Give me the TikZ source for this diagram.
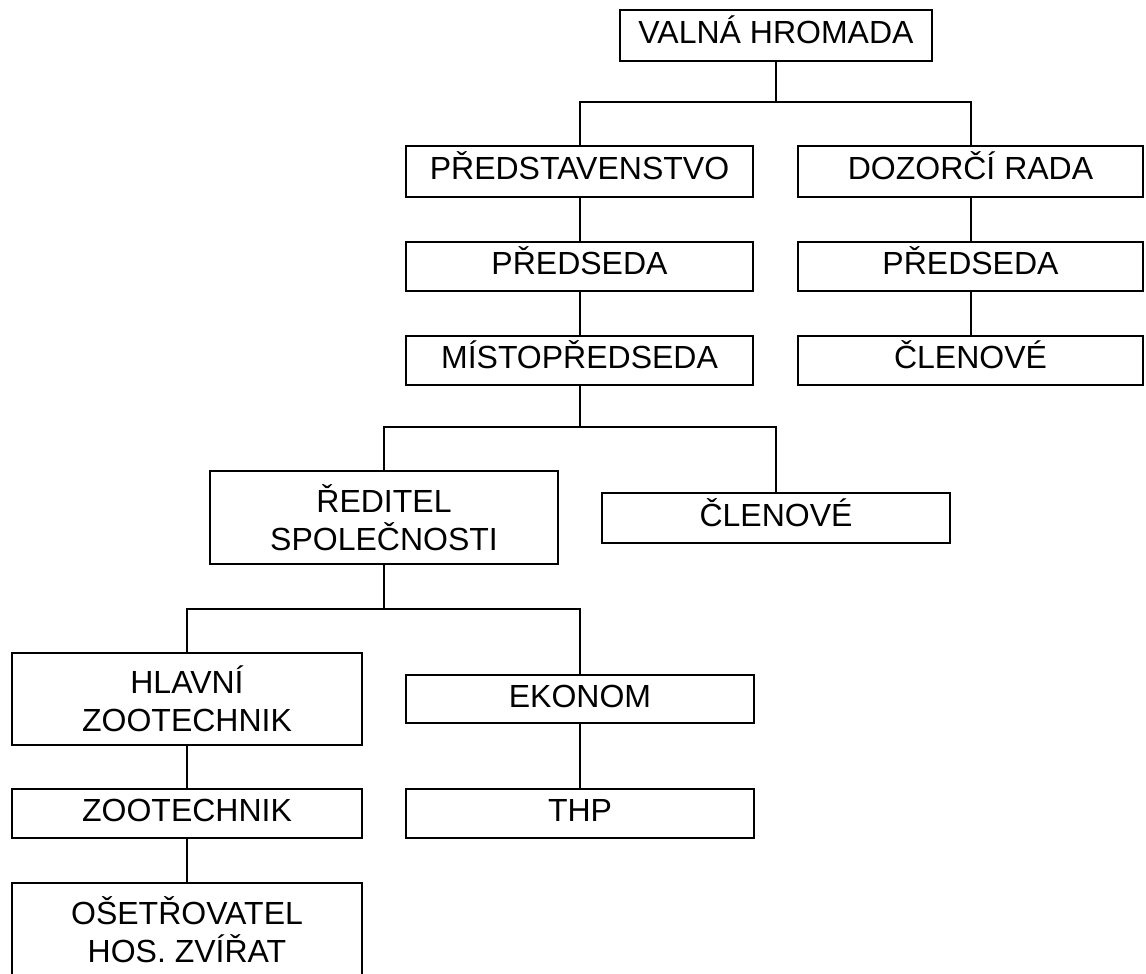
\documentclass[tikz,border=0pt]{standalone}
\usepackage{fontspec}
\setmainfont{Liberation Sans}
\begin{document}
\begin{tikzpicture}[x=1pt,y=-1pt,
  box/.style={draw, line width=2pt, rectangle, inner sep=0pt, align=center,
    font=\fontsize{32}{38}\selectfont},
  onebox/.style={box, text height=23pt, text depth=7pt},
  conn/.style={line width=2pt}]
\clip (0,0) rectangle (1146,974);
\fill[white] (0,0) rectangle (1146,974);
% boxes
\node[onebox, minimum width=312, minimum height=51] (valna) at (776,35.5) {VALNÁ HROMADA};
\node[onebox, minimum width=347, minimum height=51] (pred) at (579.5,171.5) {PŘEDSTAVENSTVO};
\node[onebox, minimum width=345, minimum height=51] (dozor) at (970.5,171.5) {DOZORČÍ RADA};
\node[onebox, minimum width=347, minimum height=49] (predsA) at (579.5,266.5) {PŘEDSEDA};
\node[onebox, minimum width=345, minimum height=49] (predsB) at (970.5,266.5) {PŘEDSEDA};
\node[onebox, minimum width=347, minimum height=49] (misto) at (579.5,360.5) {MÍSTOPŘEDSEDA};
\node[onebox, minimum width=345, minimum height=49] (clenB) at (970.5,360.5) {ČLENOVÉ};
\node[box, minimum width=348, minimum height=93] (redit) at (384,517.5) {ŘEDITEL\\SPOLEČNOSTI};
\node[onebox, minimum width=348, minimum height=50] (clenA) at (776,518) {ČLENOVÉ};
\node[box, minimum width=350, minimum height=92] (hlavni) at (187,699) {HLAVNÍ\\ZOOTECHNIK};
\node[onebox, minimum width=348, minimum height=48] (ekonom) at (580,699) {EKONOM};
\node[onebox, minimum width=350, minimum height=49] (zoot) at (187,813.5) {ZOOTECHNIK};
\node[onebox, minimum width=348, minimum height=49] (thp) at (580,813.5) {THP};
\node[box, minimum width=350, minimum height=94] (oset) at (187,930) {OŠETŘOVATEL\\HOS. ZVÍŘAT};
% junctions
\coordinate (j1) at (776,102);
\coordinate (j2) at (579.5,427);
\coordinate (j3) at (384,609);
% connectors
\draw[conn] (valna.south) -- (j1);
\draw[conn] (pred.north) |- (j1) -| (dozor.north);
\draw[conn] (pred.south) -- (predsA.north);
\draw[conn] (predsA.south) -- (misto.north);
\draw[conn] (dozor.south) -- (predsB.north);
\draw[conn] (predsB.south) -- (clenB.north);
\draw[conn] (misto.south) -- (j2);
\draw[conn] (redit.north) |- (j2) -| (clenA.north);
\draw[conn] (redit.south) -- (j3);
\draw[conn] (hlavni.north) |- (j3) -| (ekonom.north);
\draw[conn] (hlavni.south) -- (zoot.north);
\draw[conn] (zoot.south) -- (oset.north);
\draw[conn] (ekonom.south) -- (thp.north);
\end{tikzpicture}
\end{document}
